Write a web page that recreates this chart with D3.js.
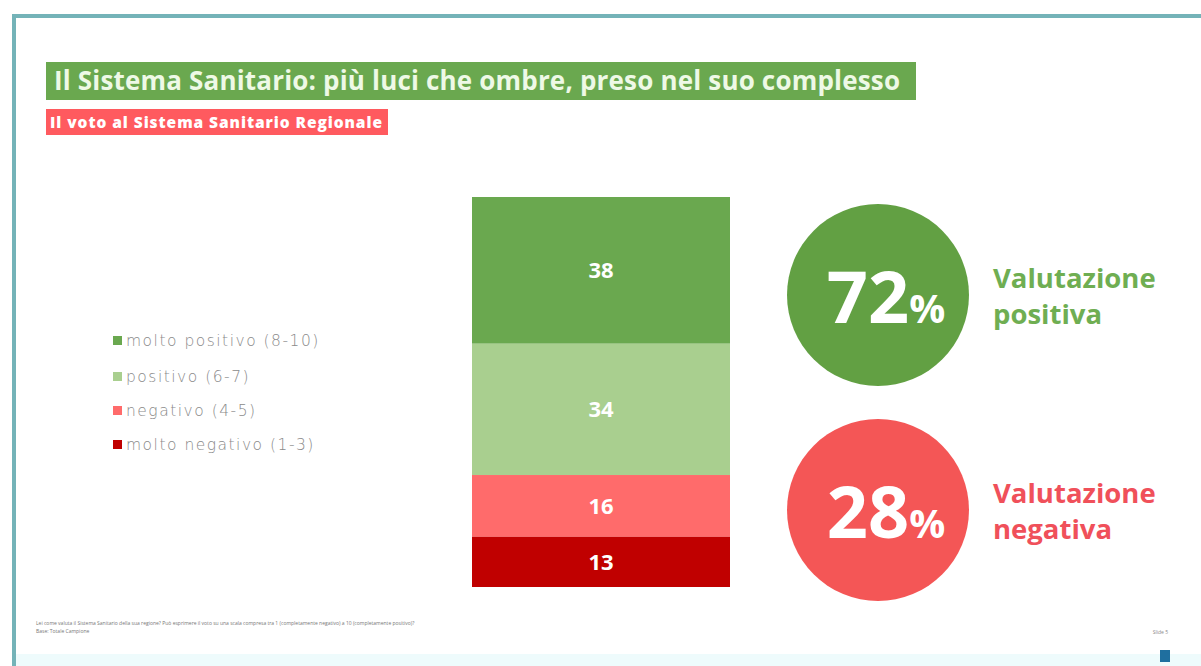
<!DOCTYPE html>
<html><head><meta charset="utf-8">
<script src="https://cdn.jsdelivr.net/npm/d3@7"></script>
<style>body{margin:0;background:#fff}svg{display:block;font-family:"Open Sans",Lato,sans-serif}</style>
</head><body><div id="c"></div>
<script>
const categories = ["molto positivo (8-10)", "positivo (6-7)", "negativo (4-5)", "molto negativo (1-3)"];
const values = [38, 34, 16, 13];
const colors = ["#6aa84f", "#a9cf8f", "#ff6b6b", "#c00000"];
const summaryValues = [72, 28];
const summaryLabels = [["Valutazione", "positiva"], ["Valutazione", "negativa"]];
const summaryColors = ["#62a043", "#f45656"];
const summaryTextColors = ["#6fae52", "#f0505a"];
const title = "Il Sistema Sanitario: più luci che ombre, preso nel suo complesso";
const subtitle = "Il voto al Sistema Sanitario Regionale";
const footnotes = ["Lei come valuta il Sistema Sanitario della sua regione? Può esprimere il voto su una scala compresa tra 1 (completamente negativo) a 10 (completamente positivo)?", "Base: Totale Campione"];

const W = 1201, H = 666;
const svg = d3.select("#c").append("svg").attr("width", W).attr("height", H);

// frame
svg.append("rect").attr("x", 12).attr("y", 14).attr("width", W - 10).attr("height", 4).attr("fill", "#74b3b8");
svg.append("rect").attr("x", 12).attr("y", 14).attr("width", 4).attr("height", H - 14).attr("fill", "#74b3b8");
svg.append("rect").attr("x", 16).attr("y", 654).attr("width", W - 16).attr("height", 12).attr("fill", "#eefbfc");

// title
svg.append("rect").attr("x", 46).attr("y", 62).attr("width", 870).attr("height", 38).attr("fill", "#6aa84f");
svg.append("text").attr("x", 54).attr("y", 90).attr("fill", "#eef9e6").attr("font-size", 26).attr("font-weight", 700)
  .attr("textLength", 846).attr("lengthAdjust", "spacing").text(title);
svg.append("rect").attr("x", 46).attr("y", 109).attr("width", 342).attr("height", 26).attr("fill", "#ff5a5f");
svg.append("text").attr("x", 50).attr("y", 127.5).attr("fill", "#fff").attr("font-size", 15.5).attr("font-weight", 800)
  .attr("textLength", 332).attr("lengthAdjust", "spacing").text(subtitle);

// stacked bar
const total = d3.sum(values);
const y = d3.scaleLinear().domain([0, total]).range([197, 587]);
const x = d3.scaleBand().domain(["voto"]).range([472, 730]).padding(0);
let cum = 0;
const stacked = values.map((v, i) => { const s = {v, i, y0: cum, y1: cum + v}; cum += v; return s; });
const g = svg.append("g");
g.selectAll("rect").data(stacked).join("rect")
  .attr("x", x("voto")).attr("width", x.bandwidth())
  .attr("y", d => y(d.y0)).attr("height", d => y(d.y1) - y(d.y0))
  .attr("fill", d => colors[d.i]);
g.selectAll("text").data(stacked).join("text")
  .attr("x", x("voto") + x.bandwidth() / 2).attr("y", d => (y(d.y0) + y(d.y1)) / 2 + 8)
  .attr("text-anchor", "middle").attr("fill", "#fff").attr("font-size", 22).attr("font-weight", 700)
  .text(d => d.v);

// legend
const lg = svg.append("g");
const ly = [341, 377, 411, 445];
categories.forEach((c, i) => {
  lg.append("rect").attr("x", 113).attr("y", ly[i] - 5).attr("width", 9).attr("height", 9).attr("fill", colors[i]);
  lg.append("text").attr("x", 126).attr("y", ly[i] + 5).attr("fill", "#8a8a8a").attr("font-size", 15.5)
    .attr("font-family", "'DejaVu Sans', sans-serif").attr("font-weight", 200).attr("letter-spacing", 1.5).text(c);
});

// summary circles
const cy = [295, 510];
summaryValues.forEach((v, i) => {
  svg.append("circle").attr("cx", 878).attr("cy", cy[i]).attr("r", 91).attr("fill", summaryColors[i]);
  const t = svg.append("text").attr("x", 886).attr("y", cy[i] + 28).attr("text-anchor", "middle")
    .attr("fill", "#fff").attr("font-weight", 700);
  t.append("tspan").attr("font-size", 72).text(v);
  t.append("tspan").attr("font-size", 40).text("%");
  summaryLabels[i].forEach((l, j) => {
    svg.append("text").attr("x", 993).attr("y", cy[i] - 7 + j * 36).attr("fill", summaryTextColors[i])
      .attr("font-size", 27.5).attr("font-weight", 700).text(l);
  });
});

// footnotes
footnotes.forEach((f, i) => {
  svg.append("text").attr("x", 36).attr("y", 625 + i * 8).attr("fill", "#777").attr("font-size", 5).text(f);
});
svg.append("text").attr("x", 1168).attr("y", 634).attr("text-anchor", "end").attr("fill", "#888").attr("font-size", 5).text("Slide 5");
svg.append("rect").attr("x", 1160).attr("y", 650).attr("width", 10).attr("height", 12).attr("fill", "#1f6f9f");
</script></body></html>
